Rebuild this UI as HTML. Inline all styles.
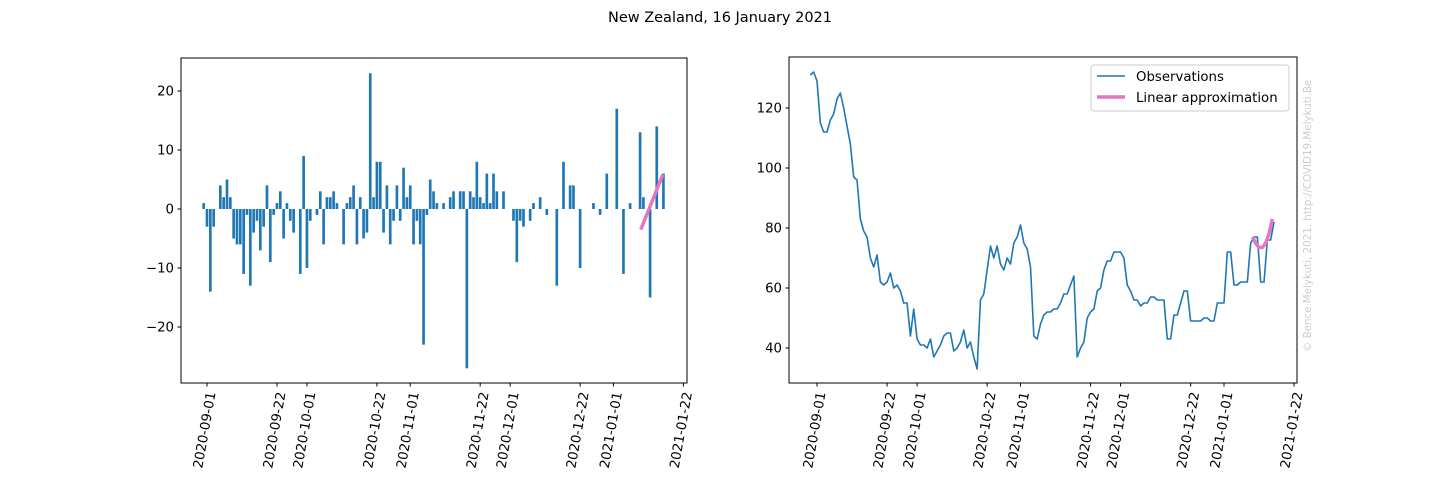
<!DOCTYPE html>
<html><head><meta charset="utf-8"><style>
body{margin:0;background:#fff;}
svg{display:block;font-family:"DejaVu Sans","Liberation Sans",sans-serif;}
</style></head><body>
<svg id="fig" width="1440" height="480" viewBox="0 0 1440 480">
<text x="720" y="22" text-anchor="middle" font-size="14.5">New Zealand, 16 January 2021</text>
<g id="left"></g>
<g id="right"></g>
<text transform="translate(1311,352) rotate(-90)" font-size="10.3" fill="#cccccc">© Bence Melykuti, 2021. http://COVID19.Melykuti.Be</text>
</svg>
<script>
const deltas=[1,-3,-14,-3,0,4,2,5,2,-5,-6,-6,-11,-1,-13,-4,-2,-7,-3,4,-9,-1,1,3,-5,1,-2,-4,0,-11,9,-10,-2,0,-1,3,-6,2,2,3,1,0,-6,1,2,4,-6,2,-5,-4,23,2,8,8,-4,4,-6,-2,4,-2,7,2,4,-6,-2,-6,-23,-1,5,3,1,0,1,0,2,3,0,3,3,-27,3,2,8,2,1,6,1,6,3,0,3,0,0,-2,-9,-2,-3,0,-2,1,0,2,0,-1,0,0,-13,0,8,0,4,4,0,-10,0,0,0,1,0,-1,0,6,0,0,17,0,-11,0,1,0,0,13,2,0,-15,0,14,0,6];
const barStartDay=-1;
const startValue=131;
const lineStartDay=-2;
const approxLeftDays=[130.2,136.8];
const approxLeftValues=[-3.5,5.8];
const approxRightDays=[130.5,131.5,132.5,133.5,134.5,135.5,136.5];
const approxRightValues=[77,75,73.5,73.5,75,78,83];
const tickDays=[0,21,30,51,61,82,91,112,122,143];
const tickLabels=["2020-09-01","2020-09-22","2020-10-01","2020-10-22","2020-11-01","2020-11-22","2020-12-01","2020-12-22","2021-01-01","2021-01-22"];
const leftYTicks=[20,10,0,-10,-20];
const rightYTicks=[120,100,80,60,40];

const NS="http://www.w3.org/2000/svg";
function mk(parent,tag,attrs){const e=document.createElementNS(NS,tag);for(const k in attrs)e.setAttribute(k,attrs[k]);parent.appendChild(e);return e;}
const obs=[startValue];
for(const d of deltas)obs.push(obs[obs.length-1]+d);

function axes(g,box,xs,ys,yTicks,name){
  const fr=mk(g,'rect',{x:box.x0,y:box.y0,width:box.x1-box.x0,height:box.y1-box.y0,fill:'none',stroke:'#000','stroke-width':1});
  
  
  tickDays.forEach((d,i)=>{
    const x=xs(d);
    const t=mk(g,'line',{x1:x,x2:x,y1:box.y1,y2:box.y1+3.5,stroke:'#000'});
    
    
    const l=mk(g,'text',{transform:`translate(${x+4},${box.y1+9}) rotate(-80)`,'text-anchor':'end','font-size':13.3,dy:'0.35em'});
    l.textContent=tickLabels[i];
    
    
  });
  yTicks.forEach(v=>{
    const y=ys(v);
    const t=mk(g,'line',{x1:box.x0-3.5,x2:box.x0,y1:y,y2:y,stroke:'#000'});
    
    
    const l=mk(g,'text',{x:box.x0-7,y:y+4.5,'text-anchor':'end','font-size':13.3});
    l.textContent=v<0?'\u2212'+(-v):v;
    
    
  });
}

// left
(function(){
  const g=document.getElementById('left');
  const box={x0:181,x1:687,y0:58,y1:383};
  const xs=d=>207+d*3.3315;
  const ys=v=>209-v*5.9;
  deltas.forEach((v,i)=>{
    const d=barStartDay+i;
    const y=Math.min(ys(v),ys(0)),h=Math.abs(ys(v)-ys(0));
    if(h<=0)return;
    const b=mk(g,'rect',{x:xs(d)-1.33,y:y,width:2.67,height:h,fill:'#1f77b4'});
    
    
  });
  const p=mk(g,'polyline',{points:approxLeftDays.map((d,i)=>xs(d)+','+ys(approxLeftValues[i])).join(' '),fill:'none',stroke:'#e377c2','stroke-width':3.5});
  
  
  axes(g,box,xs,ys,leftYTicks,'left');
})();

// right
(function(){
  const g=document.getElementById('right');
  const box={x0:789,x1:1297,y0:57,y1:383};
  const xs=d=>817+d*3.336;
  const ys=v=>168-(v-100)*3;
  const l=mk(g,'polyline',{points:obs.map((v,i)=>xs(lineStartDay+i)+','+ys(v)).join(' '),fill:'none',stroke:'#1f77b4','stroke-width':1.6,'stroke-linejoin':'round'});
  
  
  const p=mk(g,'polyline',{points:approxRightDays.map((d,i)=>xs(d)+','+ys(approxRightValues[i])).join(' '),fill:'none',stroke:'#e377c2','stroke-width':3.5});
  
  
  axes(g,box,xs,ys,rightYTicks,'right');
  const lg=mk(g,'g',{});
  
  
  mk(lg,'rect',{x:1091,y:65,width:198,height:46,rx:3,fill:'#fff','fill-opacity':0.8,stroke:'#cccccc'});
  mk(lg,'line',{x1:1097,x2:1125,y1:76,y2:76,stroke:'#1f77b4','stroke-width':1.6});
  const t1=mk(lg,'text',{x:1136,y:81,'font-size':13.3});t1.textContent='Observations';
  
  
  mk(lg,'line',{x1:1097,x2:1125,y1:97,y2:97,stroke:'#e377c2','stroke-width':3.5});
  const t2=mk(lg,'text',{x:1136,y:102,'font-size':13.3});t2.textContent='Linear approximation';
  
  
})();
</script>
</body></html>
